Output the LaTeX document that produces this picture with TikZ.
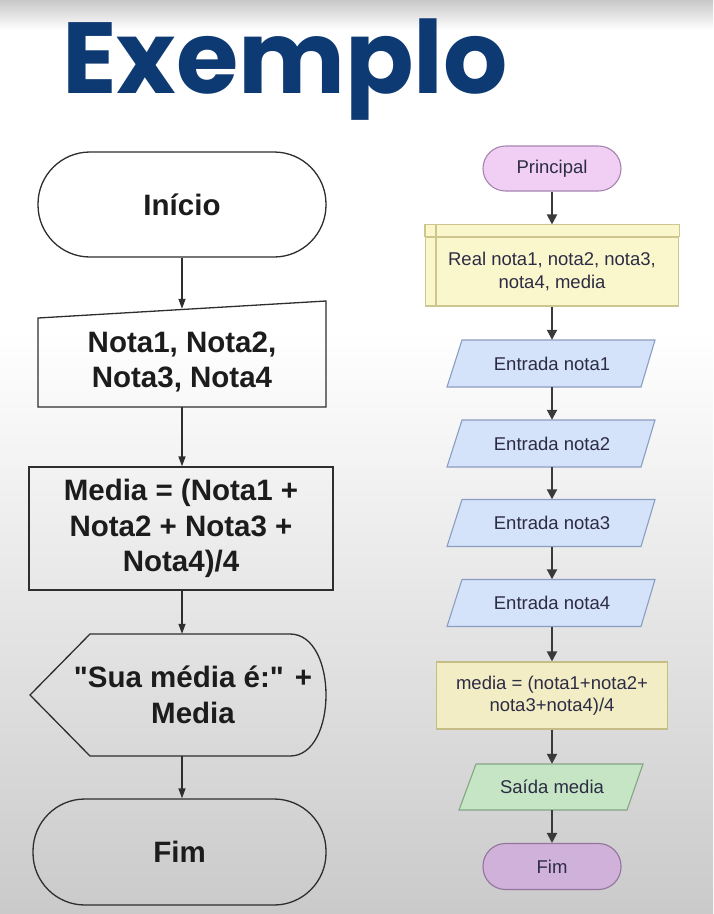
\documentclass[tikz,border=0pt]{standalone}
\usepackage{fontspec}
\setmainfont{Liberation Sans}
\newfontfamily\titlefont{Poppins}
\usetikzlibrary{arrows.meta}

\definecolor{titleblue}{HTML}{0E3A74}
\definecolor{bgtop}{HTML}{C8C8C8}
\definecolor{bgbot}{HTML}{CACACA}
\definecolor{lline}{HTML}{2E2E2E}
\definecolor{ltext}{HTML}{1C1C1C}
\definecolor{rtext}{HTML}{2C2C44}
\definecolor{princfill}{HTML}{F1CFF4}
\definecolor{princline}{HTML}{A585B0}
\definecolor{declfill}{HTML}{FBF7CD}
\definecolor{declline}{HTML}{CFC58E}
\definecolor{infill}{HTML}{D4E2FA}
\definecolor{inline}{HTML}{8C9DC2}
\definecolor{medfill}{HTML}{F2EDC5}
\definecolor{medline}{HTML}{C6BD86}
\definecolor{outfill}{HTML}{C5E5C5}
\definecolor{outline}{HTML}{84A684}
\definecolor{fimfill}{HTML}{CFB1D9}
\definecolor{fimline}{HTML}{94739F}
\definecolor{rarrowc}{HTML}{3A3A3A}

\tikzset{
  ltext/.style={font=\fontsize{29.5}{35.5}\selectfont\bfseries, text=ltext, align=center},
  lterm/.style={ltext, draw=lline, line width=1.3pt, rounded corners=52pt},
  lbox/.style={ltext, draw=lline, line width=1.3pt},
  lshape/.style={draw=lline, line width=1.3pt},
  larrow/.style={draw=lline, line width=1.3pt, -{Triangle[length=10pt,width=7pt]}},
  rtxt/.style={font=\fontsize{18.5}{22.5}\selectfont, text=rtext, align=center},
  rterm/.style={rtxt, line width=1.1pt, rounded corners=22.5pt, minimum width=138pt, minimum height=45pt},
  rbox/.style={rtxt, line width=1.1pt},
  inshape/.style={fill=infill, draw=inline, line width=1.1pt},
  intext/.style={rtxt, minimum width=194pt, minimum height=47pt},
  rarrow/.style={draw=rarrowc, line width=2pt, -{Triangle[length=10pt,width=10pt]}}
}

\begin{document}
\begin{tikzpicture}[x=1pt,y=-1pt]
\useasboundingbox (0,0) rectangle (713,914);

% fon
\fill [top color=bgtop, bottom color=white] (0,0) rectangle (713,30);
\fill [white] (0,30) rectangle (713,330);
\fill [top color=white, bottom color=bgbot] (0,330) rectangle (713,914);

% zagolovok
\node [anchor=base west, inner sep=0pt, text=titleblue,
  font=\titlefont\bfseries\fontsize{101}{101}\selectfont] (title) at (62,93) {Exemplo};

% levaya skhema
\node [lterm, minimum width=288pt, minimum height=105pt] (ini) at (182,204.5) {Início};

\draw [lshape] (38,407) -- (38,318) -- (326,301) -- (326,407) -- cycle;
\node [ltext, minimum width=288pt, minimum height=90pt] (nin) at (182,362) {Nota1, Nota2,\\Nota3, Nota4};

\node [lbox, minimum width=304pt, minimum height=123pt] (proc) at (181,528.5)
  {Media = (Nota1 +\\Nota2 + Nota3 +\\Nota4)/4};

\draw [lshape] (30,695) -- (90,634) -- (290,634)
  .. controls (338,634) and (338,756) .. (290,756) -- (90,756) -- cycle;
\node [ltext, minimum height=122pt] (disp) at (193,695)
  {\textquotedbl Sua média é:\textquotedbl{} +\\Media};

\node [lterm, minimum width=293pt, minimum height=106pt] (fim) at (179.5,852) {Fim};

\draw [larrow] (ini) -- ([yshift=8pt]nin.north);
\draw [larrow] (ini.south |- nin.south) -- (ini.south |- proc.north);
\draw [larrow] (ini.south |- proc.south) -- (ini.south |- disp.north);
\draw [larrow] (ini.south |- disp.south) -- (ini.south |- fim.north);

% pravaya skhema
\node [rterm, fill=princfill, draw=princline] (princ) at (552,168.5) {Principal};

\node [rbox, fill=declfill, draw=declline, minimum width=253pt, minimum height=69pt] (decl)
  at (552,271.5) {Real nota1, nota2, nota3,\\nota4, media};
\draw [declline, fill=declfill, line width=1.1pt] (decl.north west) rectangle ([yshift=12pt]decl.north east);
\draw [declline, line width=1.1pt] ([xshift=11pt]decl.south west) -- ([xshift=11pt,yshift=12pt]decl.north west);

\filldraw [inshape] (447,387) -- (462,340) -- (655,340) -- (641,387) -- cycle;
\node [intext] (in1) at (552,363.5) {Entrada nota1};

\filldraw [inshape] (447,467) -- (462,420) -- (655,420) -- (641,467) -- cycle;
\node [intext] (in2) at (552,443.5) {Entrada nota2};

\filldraw [inshape] (447,546.5) -- (462,499.5) -- (655,499.5) -- (641,546.5) -- cycle;
\node [intext] (in3) at (552,523) {Entrada nota3};

\filldraw [inshape] (447,626.5) -- (462,579.5) -- (655,579.5) -- (641,626.5) -- cycle;
\node [intext] (in4) at (552,603) {Entrada nota4};

\node [rbox, fill=medfill, draw=medline, minimum width=231pt, minimum height=67pt] (med)
  at (552,695.5) {media = (nota1+nota2+\\nota3+nota4)/4};

\filldraw [fill=outfill, draw=outline, line width=1.1pt] (459,810) -- (476,764) -- (643,764) -- (627,810) -- cycle;
\node [intext, minimum width=167pt, minimum height=46pt] (out) at (552,787) {Saída media};

\node [rterm, fill=fimfill, draw=fimline, minimum height=46pt] (fimr) at (552,866.5) {Fim};

\draw [rarrow] (princ) -- ([yshift=12pt]decl.north);
\draw [rarrow] (decl) -- (in1);
\draw [rarrow] (in1) -- (in2);
\draw [rarrow] (in2) -- (in3);
\draw [rarrow] (in3) -- (in4);
\draw [rarrow] (in4) -- (med);
\draw [rarrow] (med) -- (out);
\draw [rarrow] (out) -- (fimr);

\end{tikzpicture}
\end{document}
